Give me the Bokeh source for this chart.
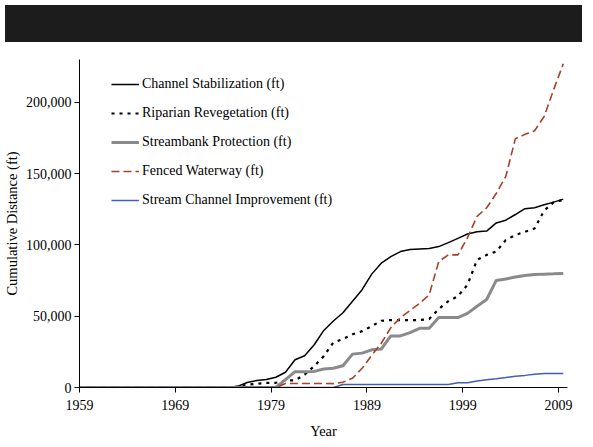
from bokeh.plotting import figure
from bokeh.layouts import column
from bokeh.models import (Range1d, FixedTicker, NumeralTickFormatter, CustomJSTickFormatter,
                          Legend, LegendItem, Div)
from bokeh.embed import file_html
from bokeh.resources import INLINE

years = list(range(1958, 2010))

def series(start_year, vals):
    out = []
    for y in years:
        if y < start_year:
            out.append(0)
        else:
            out.append(vals[y - start_year])
    return out

# Channel Stabilization (ft), values from 1975 to 2009
channel_stab = series(1975, [
    800, 3500, 4900, 5600, 7200, 10700, 19500, 22300, 30000, 40000,
    46600, 52400, 60500, 68600, 79500, 87200, 91800, 95300, 96700, 97200,
    97500, 98800, 101600, 104600, 107600, 109200, 109700, 115400, 117300, 121300,
    125400, 126100, 128200, 130000, 132100])

# Riparian Revegetation (ft), from 1975
riparian = series(1975, [
    500, 2000, 2600, 3300, 3300, 4900, 5000, 9000, 15000, 22000,
    31600, 33900, 37300, 39500, 43000, 46800, 47300, 47300, 47300, 47300,
    48000, 55000, 60500, 64000, 72000, 89500, 93000, 95300, 103400, 106900,
    109200, 111500, 124000, 130000, 131500])

# Streambank Protection (ft), from 1979
streambank = series(1979, [
    0, 5500, 11100, 11100, 11300, 13000, 13500, 15300, 23400, 24100,
    26400, 27000, 36200, 36200, 38500, 41500, 41500, 49000, 49000, 49000,
    52000, 57000, 61700, 75100, 76100, 77500, 78600, 79200, 79500, 79700,
    80000])

# Fenced Waterway (ft), from 1979
fenced = series(1979, [
    0, 2800, 2800, 2800, 2800, 2800, 2700, 3700, 6500, 13500,
    22500, 31000, 42000, 49000, 54000, 59000, 65000, 88300, 93000, 93000,
    105000, 120000, 126000, 136000, 148000, 174500, 177500, 180000, 190000, 209000,
    227000])

# Stream Channel Improvement (ft), from 1985
stream_impr = series(1985, [
    0, 2100, 2100, 2100, 2100, 2100, 2100, 2100, 2100, 2100,
    2100, 2100, 2100, 3300, 3300, 4500, 5500, 6200, 7000, 7900,
    8500, 9300, 9800, 9800, 9800])

x_tick_labels = [1959, 1969, 1979, 1989, 1999, 2009]
y_ticks = [0, 50000, 100000, 150000, 200000]

FONT = "Liberation Serif"

p = figure(width=577, height=394, output_backend="svg", toolbar_location=None,
           x_range=Range1d(1958.5, 2009.44), y_range=Range1d(0, 230000),
           min_border_left=78, min_border_right=10, min_border_top=12, min_border_bottom=50)
p.xgrid.visible = False
p.ygrid.visible = False
p.outline_line_color = None
p.background_fill_color = "white"
p.border_fill_color = "white"

r1 = p.line(years, channel_stab, line_color="black", line_width=1.5)
r2 = p.line(years, riparian, line_color="black", line_width=2.2, line_dash="3 5")
r3 = p.line(years, streambank, line_color="#8a8a8a", line_width=3)
r4 = p.line(years, fenced, line_color="#a9412a", line_width=1.6, line_dash="8 4")
r5 = p.line(years, stream_impr, line_color="#3f5fb5", line_width=1.5)

# x axis: categories are centred half a year after their tick
p.xaxis.ticker = FixedTicker(ticks=[y - 0.5 for y in x_tick_labels])
p.xaxis.formatter = CustomJSTickFormatter(code="return (tick + 0.5).toFixed(0);")
p.yaxis.ticker = FixedTicker(ticks=y_ticks)
p.yaxis.formatter = NumeralTickFormatter(format="0,0")
for ax in (p.xaxis[0], p.yaxis[0]):
    ax.axis_line_color = "black"
    ax.major_tick_line_color = "black"
    ax.major_tick_out = 5
    ax.major_tick_in = 0
    ax.minor_tick_line_color = None
    ax.major_label_text_font = FONT
    ax.major_label_text_font_size = "14px"
    ax.major_label_text_color = "black"
    ax.axis_label_text_font = FONT
    ax.axis_label_text_font_size = "14.5px"
    ax.axis_label_text_font_style = "normal"
    ax.axis_label_text_color = "black"
p.xaxis.axis_label = "Year"
p.yaxis.axis_label = "Cumulative Distance (ft)"
p.xaxis.major_label_standoff = 7
p.xaxis.axis_label_standoff = 10
p.yaxis.major_label_standoff = 3
p.yaxis.axis_label_standoff = 3

legend = Legend(items=[
    LegendItem(label="Channel Stabilization (ft)", renderers=[r1]),
    LegendItem(label="Riparian Revegetation (ft)", renderers=[r2]),
    LegendItem(label="Streambank Protection (ft)", renderers=[r3]),
    LegendItem(label="Fenced Waterway (ft)", renderers=[r4]),
    LegendItem(label="Stream Channel Improvement (ft)", renderers=[r5]),
], location=(32, 177))
legend.border_line_color = None
legend.background_fill_alpha = 0
legend.padding = 0
legend.margin = 0
legend.spacing = 9
legend.glyph_width = 28
legend.glyph_height = 20
legend.label_height = 20
legend.label_standoff = 3
legend.label_text_font = FONT
legend.label_text_font_size = "14px"
legend.label_text_color = "black"
p.add_layout(legend, "center")

# slide header band above the chart
header = Div(text="", width=577, height=37, styles={"background-color": "#1c1c1c"})
layout = column(header, p, spacing=0)

open("out.html", "w").write(file_html(layout, INLINE))
